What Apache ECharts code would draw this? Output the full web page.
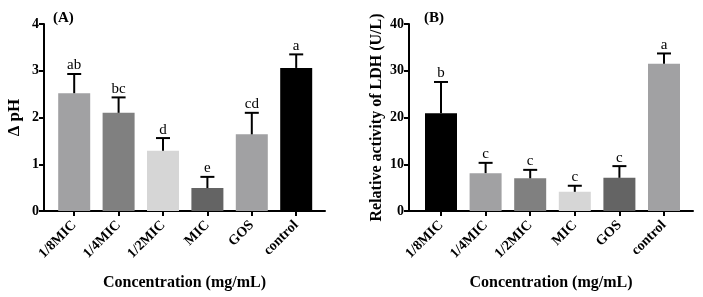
<!DOCTYPE html>
<html><head><meta charset="utf-8">
<script src="https://cdn.jsdelivr.net/npm/echarts@6/dist/echarts.min.js"></script>
<style>html,body{margin:0;padding:0;background:#fff}#c{width:703px;height:297px}</style>
</head><body><div id="c"></div>
<script>
const categories = ['1/8MIC','1/4MIC','1/2MIC','MIC','GOS','control'];
const phValues = [2.52, 2.10, 1.29, 0.49, 1.64, 3.06];
const phErrors = [0.41, 0.33, 0.27, 0.24, 0.46, 0.29];
const phLetters = ['ab','bc','d','e','cd','a'];
const phColors = ['#a1a1a3','#808080','#d6d6d6','#646464','#a1a1a3','#000000'];
const ldhValues = [20.9, 8.1, 7.0, 4.1, 7.1, 31.5];
const ldhErrors = [6.7, 2.2, 1.8, 1.3, 2.5, 2.2];
const ldhLetters = ['b','c','c','c','c','a'];
const ldhColors = ['#000000','#a1a1a3','#808080','#d6d6d6','#646464','#a1a1a3'];
const phTicks = {min:0, max:4, interval:1};
const ldhTicks = {min:0, max:40, interval:10};

const F = '"Liberation Serif", "Times New Roman", serif';
const chart = echarts.init(document.getElementById('c'), null, {renderer:'canvas'});

function errRender(letters){
  return function(params, api){
    const x = api.value(0), v = api.value(1), e = api.value(2);
    const p0 = api.coord([x, v]);
    const p1 = api.coord([x, v + e]);
    return {type:'group', children:[
      {type:'line', shape:{x1:p0[0], y1:p0[1], x2:p1[0], y2:p1[1]}, style:{stroke:'#000', lineWidth:2}},
      {type:'line', shape:{x1:p1[0]-7, y1:p1[1], x2:p1[0]+7, y2:p1[1]}, style:{stroke:'#000', lineWidth:2}},
      {type:'text', x:p1[0], y:p1[1]-1, style:{text:letters[params.dataIndex], align:'center', verticalAlign:'bottom', font:'15px ' + F, fill:'#000'}}
    ]};
  };
}

const gTop = 24, gHeight = 187;
const axisLine = {show:true, lineStyle:{color:'#000', width:2}};
function mainX(gi){
  return {gridIndex:gi, type:'category', data:categories, boundaryGap:true,
    axisLine:{show:false}, axisTick:{show:true, alignWithLabel:true, length:5, lineStyle:{color:'#000', width:2}},
    axisLabel:{rotate:45, margin:12, fontFamily:F, fontWeight:'bold', fontSize:14, color:'#000', interval:0}};
}
function mainY(gi, t, name, gap, off, nameSize){
  return {gridIndex:gi, type:'value', min:t.min, max:t.max, interval:t.interval, offset:off,
    name:name, nameLocation:'middle', nameGap:gap, nameTextStyle:{fontFamily:F, fontWeight:'bold', fontSize:nameSize, color:'#000'},
    axisLine:axisLine, axisTick:{show:true, length:5, lineStyle:{color:'#000', width:2}},
    axisLabel:{margin:5, fontFamily:F, fontWeight:'bold', fontSize:14, color:'#000'}, splitLine:{show:false}};
}
function helperX(gi){
  return {gridIndex:gi, type:'value', min:0, max:1, axisLine:axisLine, axisTick:{show:false}, axisLabel:{show:false}, splitLine:{show:false},
    name:'Concentration (mg/mL)', nameLocation:'middle', nameGap:64, nameTextStyle:{fontFamily:F, fontWeight:'bold', fontSize:16, color:'#000'}};
}
function helperY(gi){ return {gridIndex:gi, type:'value', show:false, min:0, max:1}; }
function grid(left, width){ return {left:left, top:gTop, width:width, height:gHeight, containLabel:false, outerBoundsMode:'none'}; }

chart.setOption({
  animation:false,
  title:[
    {text:'(A)', left:48, top:6, textStyle:{fontFamily:F, fontWeight:'bold', fontSize:15, color:'#000'}},
    {text:'(B)', left:419, top:6, textStyle:{fontFamily:F, fontWeight:'bold', fontSize:15, color:'#000'}}
  ],
  grid:[grid(52, 266.4), grid(44, 281), grid(418.7, 267.6), grid(409, 284)],
  xAxis:[mainX(0), helperX(1), mainX(2), helperX(3)],
  yAxis:[mainY(0, phTicks, 'Δ pH', 20.5, 8, 17), helperY(1), mainY(2, ldhTicks, 'Relative activity of LDH (U/L)', 24, 9.7, 16), helperY(3)],
  series:[
    {type:'bar', xAxisIndex:0, yAxisIndex:0, barWidth:32,
      data:phValues.map((v,i)=>({value:v, itemStyle:{color:phColors[i]}}))},
    {type:'custom', xAxisIndex:0, yAxisIndex:0, renderItem:errRender(phLetters), encode:{x:0, y:1}, z:5,
      data:phValues.map((v,i)=>[i, v, phErrors[i]])},
    {type:'bar', xAxisIndex:2, yAxisIndex:2, barWidth:32,
      data:ldhValues.map((v,i)=>({value:v, itemStyle:{color:ldhColors[i]}}))},
    {type:'custom', xAxisIndex:2, yAxisIndex:2, renderItem:errRender(ldhLetters), encode:{x:0, y:1}, z:5,
      data:ldhValues.map((v,i)=>[i, v, ldhErrors[i]])}
  ]
});
</script></body></html>
